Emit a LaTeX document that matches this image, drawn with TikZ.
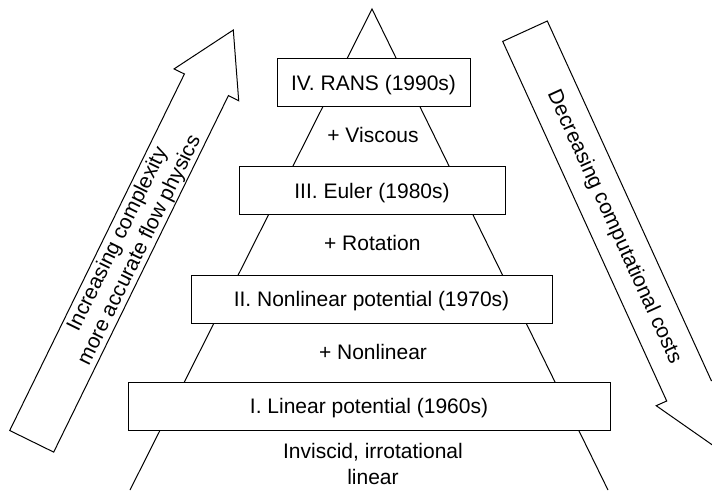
\documentclass[tikz,border=0pt]{standalone}
\usepackage{fontspec}
\setmainfont{Liberation Sans}
\begin{document}
\begin{tikzpicture}[x=1pt,y=-1pt,line width=1pt,
  box/.style={draw,fill=white,minimum height=48pt,inner sep=0pt,text height=15pt,text depth=0pt,font=\fontsize{21}{24}\selectfont},
  lbl/.style={font=\fontsize{21}{24}\selectfont,inner sep=0pt,anchor=base},
  arrtxt/.style={font=\fontsize{21}{24.5}\selectfont,inner sep=0pt,align=center}]
\useasboundingbox (0,0) rectangle (712,490);
\clip (0,0) rectangle (712,490);
% pyramid
\coordinate (apex) at (372,9);
\coordinate (bl) at (130,490);
\coordinate (br) at (608,490);
\draw (bl) -- (apex) -- (br);
% boxes
\node[box,minimum width=193pt] (iv) at (373.5,82.5) {IV. RANS (1990s)};
\node[box,minimum width=266pt] (iii) at (372,190.5) {III. Euler (1980s)};
\node[box,minimum width=361pt] (ii) at (371.5,299) {II. Nonlinear potential (1970s)};
\node[box,minimum width=482pt] (i) at (369,406) {I. Linear potential (1960s)};
% labels
\node[lbl] (visc) at (373,142.7) {+ Viscous};
\node[lbl] (rot) at (372.3,250) {+ Rotation};
\node[lbl] (nonl) at (373,359) {+ Nonlinear};
\node[lbl] (inv1) at (373,458.3) {Inviscid, irrotational};
\node[lbl] (inv2) at (373,484.3) {linear};
% left arrow
\coordinate (la1) at (9.7,430.5);
\coordinate (la2) at (184.4,74.0);
\coordinate (la3) at (174.1,68.9);
\coordinate (la4) at (233.3,30);
\coordinate (la5) at (238.7,100.7);
\coordinate (la6) at (228.4,95.6);
\coordinate (la7) at (53.7,452.1);
\draw[line join=miter] (la1) -- (la2) -- (la3) -- (la4) -- (la5) -- (la6) -- (la7) -- cycle;
\node[arrtxt,rotate=63.8] (ltxt) at (129,245) {Increasing complexity\\more accurate flow physics};
% right arrow
\coordinate (ra1) at (502.7,41.4);
\coordinate (ra2) at (666.7,401.0);
\coordinate (ra3) at (656.2,405.7);
\coordinate (ra4) at (714.3,446.3);
\coordinate (ra5) at (721.8,375.9);
\coordinate (ra6) at (711.3,380.6);
\coordinate (ra7) at (547.3,21.0);
\draw[line join=miter] (ra1) -- (ra2) -- (ra3) -- (ra4) -- (ra5) -- (ra6) -- (ra7) -- cycle;
\node[arrtxt,rotate=-65.5] (rtxt) at (614,227) {Decreasing computational costs};
\end{tikzpicture}
\end{document}
